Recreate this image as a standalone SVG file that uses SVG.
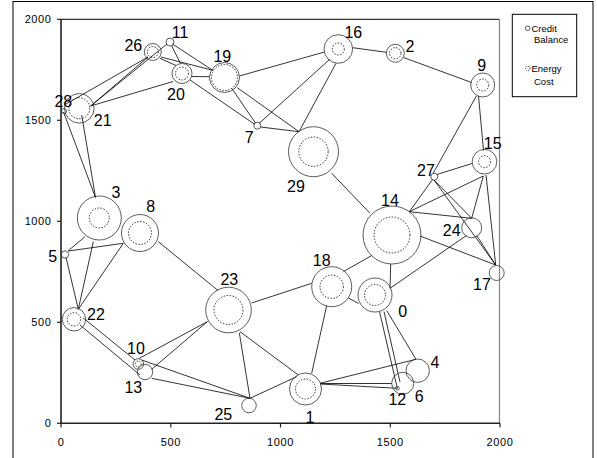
<svg xmlns="http://www.w3.org/2000/svg" width="597" height="458" viewBox="0 0 597 458">
<style>
.frame{fill:none;stroke:#000;stroke-width:1}
.edge{stroke:#000;stroke-width:0.8;fill:none}
.cb{fill:#fff;fill-opacity:0;stroke:#333;stroke-width:0.8}
.ec{fill:none;stroke:#000;stroke-width:0.8;stroke-dasharray:1.5 1.5}
.lbl{font-family:"Liberation Sans",Arial,sans-serif;font-size:16px;fill:#000;text-anchor:middle}
.ax{font-family:"Liberation Sans",Arial,sans-serif;font-size:11px;letter-spacing:0.6px;fill:#000}
.leg{font-family:"Liberation Sans",Arial,sans-serif;font-size:9.5px;fill:#000}
</style>
<rect x="0" y="0" width="597" height="458" fill="#fff"/>
<rect class="frame" x="13" y="1.5" width="580" height="470"/>
<g id="axes">
<line x1="61" y1="19.3" x2="499.5" y2="19.3" stroke="#000" stroke-width="1"/>
<line x1="499.5" y1="19.3" x2="499.5" y2="423.3" stroke="#888" stroke-width="1.2"/>
<line x1="61" y1="19" x2="61" y2="424" stroke="#222" stroke-width="1.6"/>
<line x1="60" y1="423.3" x2="500" y2="423.3" stroke="#222" stroke-width="1.6"/>
<g stroke="#222" stroke-width="1.2">
<line x1="57" y1="19.3" x2="61" y2="19.3"/>
<line x1="57" y1="120.3" x2="61" y2="120.3"/>
<line x1="57" y1="221.3" x2="61" y2="221.3"/>
<line x1="57" y1="322.3" x2="61" y2="322.3"/>
<line x1="57" y1="423.3" x2="61" y2="423.3"/>
<line x1="61" y1="423.3" x2="61" y2="427.5"/>
<line x1="170.8" y1="423.3" x2="170.8" y2="427.5"/>
<line x1="280.5" y1="423.3" x2="280.5" y2="427.5"/>
<line x1="390.3" y1="423.3" x2="390.3" y2="427.5"/>
<line x1="500" y1="423.3" x2="500" y2="427.5"/>
</g>
<g class="ax" text-anchor="end">
<text x="51.5" y="23.3">2000</text>
<text x="51.5" y="124.3">1500</text>
<text x="51.5" y="225.3">1000</text>
<text x="51.5" y="326.3">500</text>
<text x="51.5" y="427.3">0</text>
</g>
<g class="ax" text-anchor="middle">
<text x="61" y="446">0</text>
<text x="170.8" y="446">500</text>
<text x="280.5" y="446">1000</text>
<text x="390.3" y="446">1500</text>
<text x="500" y="446">2000</text>
</g>
</g>
<g id="connectors" class="edge">
<line x1="66" y1="104" x2="148" y2="57"/>
<line x1="90.7" y1="106" x2="148" y2="57"/>
<line x1="90.7" y1="106" x2="167" y2="44"/>
<line x1="160" y1="58.3" x2="176" y2="65.5"/>
<line x1="161" y1="57" x2="212.7" y2="70.3"/>
<line x1="172.5" y1="44" x2="212.7" y2="70.3"/>
<line x1="171.5" y1="45.5" x2="180.5" y2="63.5"/>
<line x1="192" y1="76.5" x2="209.5" y2="76.7"/>
<line x1="90.7" y1="106" x2="173" y2="81.5"/>
<line x1="190" y1="80" x2="255" y2="124.5"/>
<line x1="231.7" y1="88.3" x2="255.5" y2="123"/>
<line x1="237.3" y1="87.7" x2="299" y2="131.7"/>
<line x1="239.3" y1="76" x2="324.5" y2="52"/>
<line x1="259" y1="123.5" x2="330" y2="59"/>
<line x1="260.5" y1="127" x2="299" y2="131.7"/>
<line x1="336" y1="63.3" x2="299" y2="131.7"/>
<line x1="352.7" y1="47.7" x2="386.5" y2="52.3"/>
<line x1="403.5" y1="57.5" x2="471.5" y2="82.5"/>
<line x1="478.5" y1="95.8" x2="483.5" y2="150.5"/>
<line x1="476.5" y1="95.8" x2="433" y2="173.5"/>
<line x1="437" y1="174.5" x2="472" y2="163.5"/>
<line x1="331.7" y1="173.3" x2="370" y2="213.3"/>
<line x1="432.7" y1="179.3" x2="409.3" y2="211.7"/>
<line x1="434" y1="180" x2="471.7" y2="218.3"/>
<line x1="434" y1="180" x2="495.7" y2="265"/>
<line x1="483.3" y1="176" x2="409.3" y2="211.7"/>
<line x1="483.3" y1="176" x2="471.7" y2="218.3"/>
<line x1="486" y1="175" x2="495.7" y2="265"/>
<line x1="409.3" y1="211.7" x2="471.7" y2="218.3"/>
<line x1="420" y1="236" x2="495.7" y2="265"/>
<line x1="476.7" y1="235.5" x2="495.7" y2="265"/>
<line x1="466.5" y1="235.5" x2="390" y2="288.3"/>
<line x1="390.7" y1="264" x2="390" y2="288.3"/>
<line x1="371.7" y1="255.5" x2="343.5" y2="271.5"/>
<line x1="348.5" y1="298" x2="358.5" y2="303.5"/>
<line x1="311.7" y1="283.3" x2="251.7" y2="303"/>
<line x1="326.7" y1="305.5" x2="311.7" y2="373.3"/>
<line x1="386.7" y1="310.5" x2="416" y2="359.3"/>
<line x1="379.5" y1="311.5" x2="397.3" y2="388.3"/>
<line x1="384" y1="311.5" x2="400" y2="382"/>
<line x1="320" y1="383.3" x2="416" y2="359.3"/>
<line x1="320" y1="384" x2="397.3" y2="388.3"/>
<line x1="320" y1="383.5" x2="391.7" y2="383.5"/>
<line x1="298.3" y1="375" x2="240" y2="331.7"/>
<line x1="296.7" y1="376.7" x2="250" y2="398.3"/>
<line x1="239.3" y1="332.7" x2="250" y2="398.3"/>
<line x1="218.3" y1="290.7" x2="158.3" y2="241.7"/>
<line x1="207.3" y1="321.7" x2="139.3" y2="358.3"/>
<line x1="207.3" y1="321.7" x2="151.7" y2="369.3"/>
<line x1="141.7" y1="360" x2="250" y2="398.3"/>
<line x1="151.7" y1="378.3" x2="250" y2="398.3"/>
<line x1="83.3" y1="318" x2="135" y2="360"/>
<line x1="80" y1="325" x2="140" y2="375"/>
<line x1="66" y1="257.3" x2="78.3" y2="309.3"/>
<line x1="93.3" y1="241.7" x2="78.3" y2="309.3"/>
<line x1="123.3" y1="243.3" x2="78.3" y2="309.3"/>
<line x1="68.3" y1="250.7" x2="85" y2="236.7"/>
<line x1="68.3" y1="251" x2="123.3" y2="243.3"/>
<line x1="63.5" y1="112" x2="95.5" y2="197.5"/>
<line x1="81.7" y1="115" x2="95.5" y2="197.5"/>
</g>
<g id="n0"><circle class="cb" cx="375" cy="295" r="17"/><circle class="ec" cx="375" cy="295" r="10.5"/><text class="lbl" x="402.7" y="317.4">0</text></g>
<g id="n1"><circle class="cb" cx="305.5" cy="389" r="16"/><circle class="ec" cx="305.5" cy="389" r="10"/><text class="lbl" x="310" y="423">1</text></g>
<g id="n2"><circle class="cb" cx="395.3" cy="53.3" r="9"/><circle class="ec" cx="395.3" cy="53.3" r="5.7"/><text class="lbl" x="410" y="52.4">2</text></g>
<g id="n3"><circle class="cb" cx="99.3" cy="218" r="22"/><circle class="ec" cx="99.3" cy="218" r="10"/><text class="lbl" x="116" y="198">3</text></g>
<g id="n4"><circle class="cb" cx="417.7" cy="370.7" r="11.7"/><text class="lbl" x="435" y="368">4</text></g>
<g id="n5"><circle class="cb" cx="65" cy="254.5" r="3.7"/><text class="lbl" x="52.7" y="261.7">5</text></g>
<g id="n6"><circle class="cb" cx="402.7" cy="383.3" r="11"/><text class="lbl" x="419.3" y="401.7">6</text></g>
<g id="n7"><circle class="cb" cx="257.3" cy="125.7" r="3.5"/><text class="lbl" x="249.3" y="143.4">7</text></g>
<g id="n8"><circle class="cb" cx="140" cy="233" r="18.5"/><circle class="ec" cx="140" cy="233" r="11.5"/><text class="lbl" x="150.7" y="212.4">8</text></g>
<g id="n9"><circle class="cb" cx="482.7" cy="85" r="12"/><circle class="ec" cx="482.7" cy="85" r="6"/><text class="lbl" x="481.7" y="70.7">9</text></g>
<g id="n10"><circle class="cb" cx="138.3" cy="364" r="5.3"/><circle class="ec" cx="138.3" cy="364" r="3"/><text class="lbl" x="136" y="354">10</text></g>
<g id="n11"><circle class="cb" cx="170" cy="42" r="4"/><text class="lbl" x="180" y="38">11</text></g>
<g id="n12"><circle class="cb" cx="397.5" cy="388.3" r="1.8"/><text class="lbl" x="397.3" y="405">12</text></g>
<g id="n13"><circle class="cb" cx="145" cy="372" r="7.7"/><text class="lbl" x="133.3" y="393">13</text></g>
<g id="n14"><circle class="cb" cx="392" cy="235" r="29"/><circle class="ec" cx="392" cy="235" r="18"/><text class="lbl" x="390" y="205.7">14</text></g>
<g id="n15"><circle class="cb" cx="484.5" cy="161.7" r="12.3"/><circle class="ec" cx="484.5" cy="161.7" r="6"/><text class="lbl" x="492.7" y="149">15</text></g>
<g id="n16"><circle class="cb" cx="338.3" cy="49" r="14.3"/><circle class="ec" cx="338.3" cy="49" r="6"/><text class="lbl" x="353.3" y="38">16</text></g>
<g id="n17"><circle class="cb" cx="496.7" cy="273" r="7.5"/><text class="lbl" x="482" y="289.7">17</text></g>
<g id="n18"><circle class="cb" cx="331.7" cy="286.7" r="20"/><circle class="ec" cx="331.7" cy="286.7" r="11.7"/><text class="lbl" x="321.7" y="266.4">18</text></g>
<g id="n19"><circle class="cb" cx="224.5" cy="77.5" r="15"/><circle class="ec" cx="224.5" cy="77.5" r="13"/><text class="lbl" x="222.3" y="62.4">19</text></g>
<g id="n20"><circle class="cb" cx="182" cy="73.5" r="10"/><circle class="ec" cx="182" cy="73.5" r="6.5"/><text class="lbl" x="176" y="100">20</text></g>
<g id="n21"><circle class="cb" cx="79.3" cy="108.3" r="14.8"/><circle class="ec" cx="79.3" cy="108.3" r="10.5"/><text class="lbl" x="102.7" y="125.7">21</text></g>
<g id="n22"><circle class="cb" cx="74" cy="319.3" r="11.7"/><circle class="ec" cx="74" cy="319.3" r="6.7"/><text class="lbl" x="96" y="319.7">22</text></g>
<g id="n23"><circle class="cb" cx="228.5" cy="310" r="22.8"/><circle class="ec" cx="228.5" cy="310" r="14.5"/><text class="lbl" x="229.3" y="285">23</text></g>
<g id="n24"><circle class="cb" cx="471.7" cy="227.8" r="10"/><text class="lbl" x="451.7" y="236.4">24</text></g>
<g id="n25"><circle class="cb" cx="249" cy="405.5" r="7.3"/><text class="lbl" x="223.3" y="419.7">25</text></g>
<g id="n26"><circle class="cb" cx="152.8" cy="52" r="8.5"/><circle class="ec" cx="152.8" cy="52" r="5.5"/><text class="lbl" x="133.3" y="51.4">26</text></g>
<g id="n27"><circle class="cb" cx="434.3" cy="176.7" r="3.5"/><text class="lbl" x="426" y="175.7">27</text></g>
<g id="n28"><circle class="cb" cx="64" cy="111" r="2.5"/><text class="lbl" x="63.3" y="106.7">28</text></g>
<g id="n29"><circle class="cb" cx="313.5" cy="151.7" r="25"/><circle class="ec" cx="313.5" cy="151.7" r="14.7"/><text class="lbl" x="296" y="191.7">29</text></g>
<g id="legend">
<rect x="512.3" y="14.3" width="64.4" height="82.4" fill="#fff" stroke="#000" stroke-width="1"/>
<circle cx="527.7" cy="28.3" r="2.3" fill="none" stroke="#333" stroke-width="0.8"/>
<text class="leg" x="531.5" y="31.5">Credit</text>
<text class="leg" x="534" y="43">Balance</text>
<circle cx="527.7" cy="68.5" r="2.3" fill="none" stroke="#000" stroke-width="0.8" stroke-dasharray="1 1"/>
<text class="leg" x="531.5" y="72">Energy</text>
<text class="leg" x="534" y="85">Cost</text>
</g>
</svg>
